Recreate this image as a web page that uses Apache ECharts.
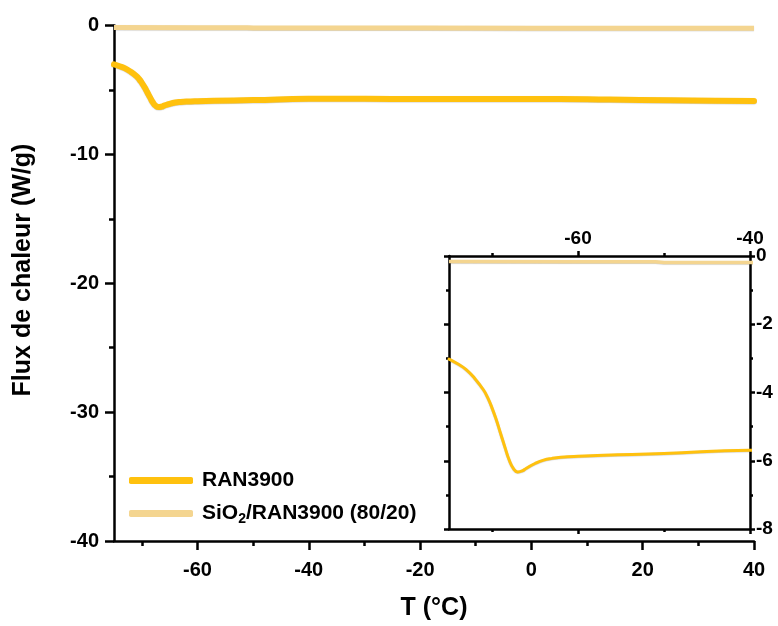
<!DOCTYPE html>
<html>
<head>
<meta charset="utf-8">
<script src="https://cdn.jsdelivr.net/npm/echarts@6/dist/echarts.min.js"></script>
<style>html,body{margin:0;padding:0;background:#fff;}#c{width:778px;height:626px;}</style>
</head>
<body>
<div id="c"></div>
<script>
// ---- data ----
const seriesNames = ['RAN3900', 'SiO2/RAN3900 (80/20)'];
const ranX = [-75, -74, -73, -72, -71, -70.5, -70, -69.5, -69, -68.5, -68, -67.5, -67, -66.5, -66, -65, -64, -63, -62, -60, -57, -50, -40, -30, -20, -10, 0, 10, 14, 25, 33, 40];
const ranY = [-3.02, -3.16, -3.33, -3.59, -3.92, -4.15, -4.45, -4.80, -5.20, -5.60, -5.98, -6.23, -6.33, -6.30, -6.22, -6.08, -5.98, -5.93, -5.90, -5.87, -5.84, -5.79, -5.69, -5.69, -5.70, -5.70, -5.70, -5.72, -5.75, -5.80, -5.84, -5.86];
const sioX = [-75, -60, -51, -50, -20, 0, 20, 40];
const sioY = [-0.16, -0.17, -0.17, -0.19, -0.20, -0.21, -0.22, -0.22];
const mainXMajor = [-60, -40, -20, 0, 20, 40];
const mainXMinor = [-70, -50, -30, -10, 10, 30];
const insetXMajor = [-60, -40];
const insetXMinor = [-70, -50];
const xTitle = 'T (°C)';
const yTitle = 'Flux de chaleur (W/g)';

const FONT = '"Liberation Sans", Arial, sans-serif';
const C_RAN = '#FFC10E';
const C_SIO = '#F4D590';
const AXL = { color: '#000', width: 2.5 };

function pairs(xs, ys) { return xs.map((x, i) => [x, ys[i]]); }

const chart = echarts.init(document.getElementById('c'), null, { renderer: 'canvas' });

const baseX = (extra) => Object.assign({
  type: 'value', splitLine: { show: false }, minorSplitLine: { show: false }
}, extra);

const option = {
  backgroundColor: '#fff',
  animation: false,
  textStyle: { fontFamily: FONT },
  grid: [
    { left: 114, right: 24, top: 25.5, bottom: 84 },
    { left: 449, right: 28, top: 256, bottom: 97 }
  ],
  xAxis: [
    baseX({ gridIndex: 0, position: 'bottom', min: -75, max: 40,
      axisLine: { show: true, onZero: false, lineStyle: AXL },
      axisTick: { show: true, customValues: mainXMajor, length: 9, lineStyle: AXL },
      axisLabel: { show: true, customValues: mainXMajor, margin: 19, color: '#000', fontSize: 20, fontWeight: 'bold', fontFamily: FONT },
      name: xTitle, nameLocation: 'middle', nameGap: 55,
      nameTextStyle: { color: '#000', fontSize: 25, fontWeight: 'bold', fontFamily: FONT } }),
    baseX({ gridIndex: 0, position: 'bottom', min: -75, max: 40,
      axisLine: { show: false, onZero: false },
      axisTick: { show: true, customValues: mainXMinor, length: 5, lineStyle: AXL },
      axisLabel: { show: false } }),
    baseX({ gridIndex: 1, position: 'top', min: -75, max: -40,
      axisLine: { show: true, onZero: false, lineStyle: AXL },
      axisTick: { show: true, customValues: insetXMajor, length: 5, lineStyle: AXL },
      axisLabel: { show: true, customValues: insetXMajor, margin: 8, color: '#000', fontSize: 19, fontWeight: 'bold', fontFamily: FONT } }),
    baseX({ gridIndex: 1, position: 'top', min: -75, max: -40,
      axisLine: { show: false, onZero: false },
      axisTick: { show: true, customValues: insetXMinor, length: 3, lineStyle: AXL },
      axisLabel: { show: false } }),
    baseX({ gridIndex: 1, position: 'bottom', min: -75, max: -40,
      axisLine: { show: true, onZero: false, lineStyle: AXL },
      axisTick: { show: true, customValues: insetXMajor, length: 5, lineStyle: AXL },
      axisLabel: { show: false } }),
    baseX({ gridIndex: 1, position: 'bottom', min: -75, max: -40,
      axisLine: { show: false, onZero: false },
      axisTick: { show: true, customValues: insetXMinor, length: 3, lineStyle: AXL },
      axisLabel: { show: false } })
  ],
  yAxis: [
    { type: 'value', gridIndex: 0, position: 'left', min: -40, max: 0, interval: 10,
      splitLine: { show: false },
      axisLine: { show: true, onZero: false, lineStyle: AXL },
      axisTick: { show: true, length: 9, lineStyle: AXL },
      minorTick: { show: true, splitNumber: 2, length: 5, lineStyle: AXL },
      axisLabel: { margin: 15, color: '#000', fontSize: 20, fontWeight: 'bold', fontFamily: FONT } },
    { type: 'value', gridIndex: 1, position: 'right', min: -8, max: 0, interval: 2,
      splitLine: { show: false },
      axisLine: { show: true, onZero: false, lineStyle: AXL },
      axisTick: { show: true, length: 5, lineStyle: AXL },
      minorTick: { show: true, splitNumber: 2, length: 3, lineStyle: AXL },
      axisLabel: { margin: 6, color: '#000', fontSize: 19, fontWeight: 'bold', fontFamily: FONT } },
    { type: 'value', gridIndex: 1, position: 'left', min: -8, max: 0, interval: 2,
      splitLine: { show: false },
      axisLine: { show: true, onZero: false, lineStyle: AXL },
      axisTick: { show: true, length: 5, lineStyle: AXL },
      minorTick: { show: true, splitNumber: 2, length: 3, lineStyle: AXL },
      axisLabel: { show: false } }
  ],
  legend: {
    orient: 'vertical', left: 124, top: 465, itemWidth: 64, itemHeight: 7, itemGap: 12,
    icon: 'roundRect',
    data: seriesNames,
    formatter: function (name) {
      if (name.indexOf('SiO2') === 0) return '{n|SiO}{s|2}{n|' + name.slice(4) + '}';
      return '{n|' + name + '}';
    },
    textStyle: {
      color: '#000', fontFamily: FONT, fontWeight: 'bold', fontSize: 21, padding: [0, 0, 0, 4],
      rich: {
        n: { color: '#000', fontFamily: FONT, fontWeight: 'bold', fontSize: 21 },
        s: { color: '#000', fontFamily: FONT, fontWeight: 'bold', fontSize: 14, padding: [11, 0, 0, 0] }
      }
    }
  },
  graphic: [{
    type: 'text', x: 23, y: 270, rotation: Math.PI / 2,
    style: { text: yTitle, fill: '#000', font: 'bold 25px ' + FONT, align: 'center', verticalAlign: 'middle' }
  }],
  series: [
    { name: seriesNames[1], type: 'line', xAxisIndex: 0, yAxisIndex: 0, data: pairs(sioX, sioY),
      showSymbol: false, symbol: 'none', itemStyle: { color: C_SIO },
      lineStyle: { color: C_SIO, width: 5, shadowColor: 'rgba(0,0,0,0.2)', shadowBlur: 1, shadowOffsetY: 0.5 } },
    { name: seriesNames[0], type: 'line', xAxisIndex: 0, yAxisIndex: 0, data: pairs(ranX, ranY),
      showSymbol: false, symbol: 'none', smooth: 0.5, itemStyle: { color: C_RAN },
      lineStyle: { color: C_RAN, width: 6, cap: 'round', join: 'round', shadowColor: 'rgba(0,0,0,0.2)', shadowBlur: 1, shadowOffsetY: 0.5 } },
    { name: seriesNames[1], type: 'line', xAxisIndex: 2, yAxisIndex: 1, data: pairs(sioX, sioY),
      showSymbol: false, symbol: 'none', itemStyle: { color: C_SIO }, clip: true,
      lineStyle: { color: C_SIO, width: 3.5, shadowColor: 'rgba(0,0,0,0.2)', shadowBlur: 1, shadowOffsetY: 0.5 } },
    { name: seriesNames[0], type: 'line', xAxisIndex: 2, yAxisIndex: 1, data: pairs(ranX, ranY),
      showSymbol: false, symbol: 'none', smooth: 0.5, itemStyle: { color: C_RAN }, clip: true,
      lineStyle: { color: C_RAN, width: 3, cap: 'round', join: 'round', shadowColor: 'rgba(0,0,0,0.2)', shadowBlur: 1, shadowOffsetY: 0.5 } }
  ]
};
chart.setOption(option);
</script>
</body>
</html>
